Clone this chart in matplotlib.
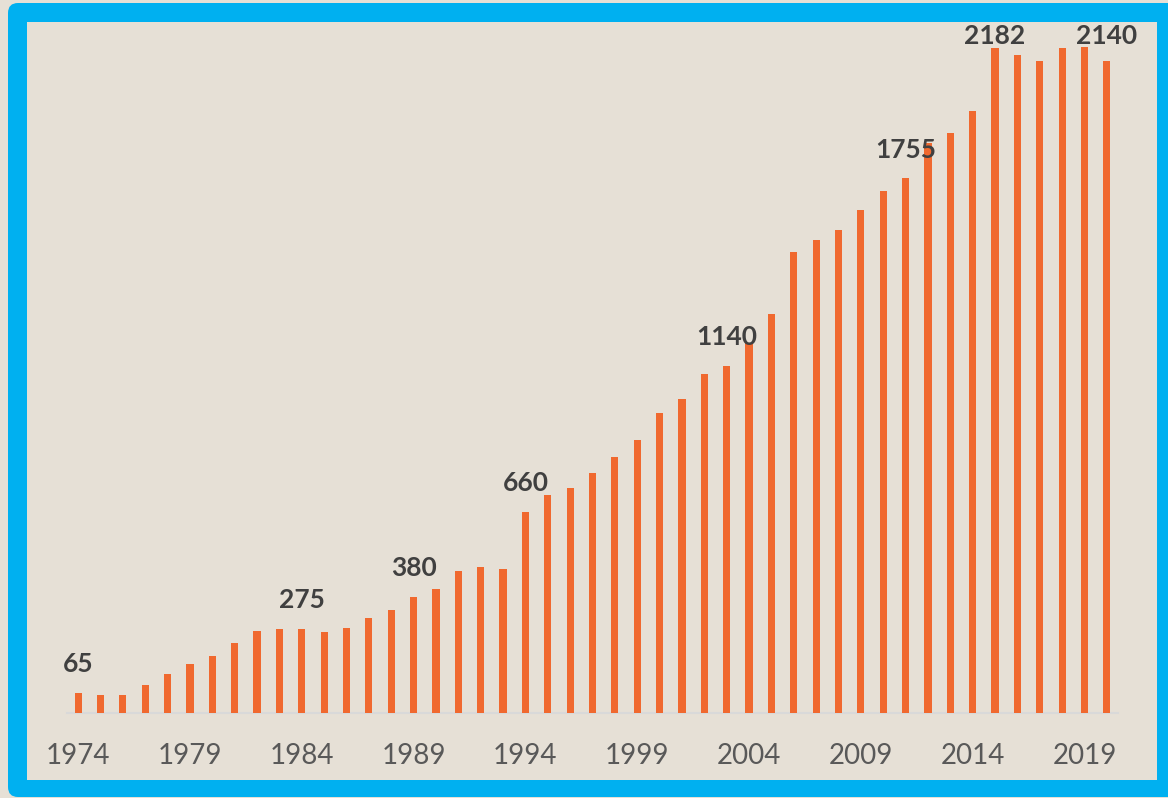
import matplotlib
matplotlib.use("Agg")
import matplotlib.pyplot as plt
from matplotlib.patches import FancyBboxPatch, Rectangle
from matplotlib.transforms import IdentityTransform

# data
years = list(range(1974, 2021))
values = [65, 57, 59, 89, 128, 159, 187, 229, 267, 273,
          275, 264, 278, 312, 338, 380, 407, 464, 479, 471,
          660, 716, 739, 786, 840, 895, 983, 1030, 1111, 1140,
          1215, 1310, 1512, 1552, 1587, 1651, 1713, 1755, 1870, 1903,
          1975, 2182, 2160, 2140, 2182, 2187, 2140]
label_years = [1974, 1984, 1989, 1994, 2003, 2011, 2015, 2020]
tick_years = years[::5]

BLUE = '#00B0F0'
BEIGE = '#E6E0D6'
ORANGE = '#F0692F'

W, H = 1168, 798
fig = plt.figure(figsize=(W / 100, H / 100), dpi=100, facecolor=BEIGE)

# blue frame with rounded corners, then the inner panel (behind the axes)
frame = FancyBboxPatch((8, 1), 1185, 794, boxstyle='round,pad=0,rounding_size=10',
                       transform=IdentityTransform(), facecolor=BLUE, edgecolor='none', zorder=-2)
inner = Rectangle((27, 18), 1130, 758, transform=IdentityTransform(),
                  facecolor=BEIGE, edgecolor='none', zorder=-1)
fig.patches.extend([frame, inner])

ax = fig.add_axes([67 / W, (H - 712.5) / H, 1051 / W, 669.5 / H])
ax.set_zorder(1)
ax.set_facecolor('none')
ax.bar(years, values, width=0.32, color=ORANGE, zorder=3)
ax.set_xlim(1973.5, 2020.5)
ax.set_ylim(0, 2200)

for s in ['top', 'right', 'left']:
    ax.spines[s].set_visible(False)
ax.spines['bottom'].set_color('#D9D9D9')
ax.spines['bottom'].set_linewidth(1.5)
ax.set_yticks([])
ax.set_xticks(tick_years)
ax.set_xticklabels([str(y) for y in tick_years], fontsize=20, color='#595959', family='Lato')
ax.tick_params(axis='x', length=0, pad=22)

# value labels, kept below the top of the panel
for y in label_years:
    v = values[years.index(y)]
    yc = min(v + 94, 2223)
    ax.text(y, yc, str(v), ha='center', va='center', fontsize=19, fontweight='bold',
            color='#404040', family='Lato', clip_on=False, zorder=4)

fig.savefig('out.png', dpi=100, facecolor=BEIGE)
